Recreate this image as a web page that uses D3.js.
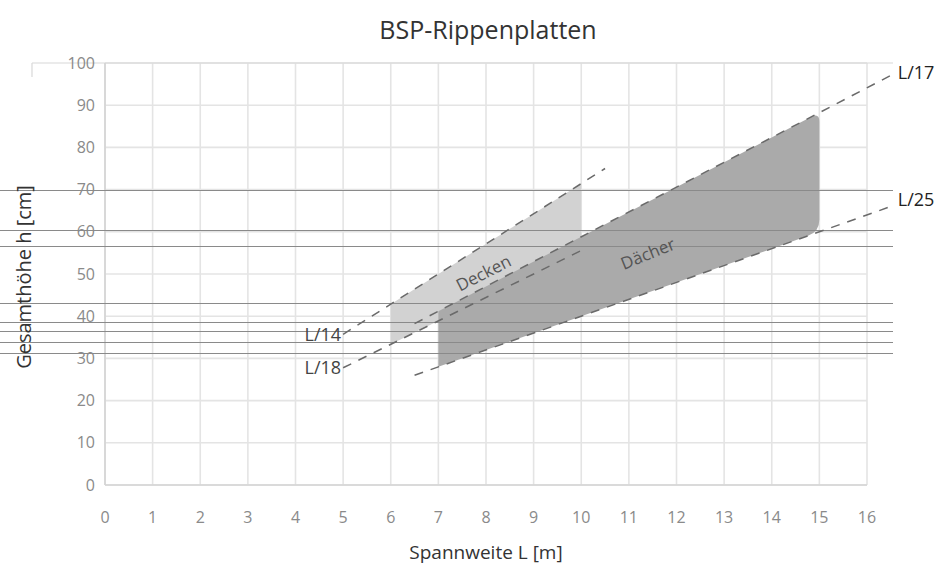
<!DOCTYPE html>
<html>
<head>
<meta charset="utf-8">
<script src="https://cdn.jsdelivr.net/npm/d3@7"></script>
<style>
  html, body { margin: 0; padding: 0; background: #fff; }
  svg { display: block; font-family: "Open Sans", "Noto Sans", sans-serif; }
</style>
</head>
<body>
<svg id="chart" width="948" height="568"></svg>
<script>
// Span (m) and total height (cm) axes
const xTicks = [0, 1, 2, 3, 4, 5, 6, 7, 8, 9, 10, 11, 12, 13, 14, 15, 16];
const yTicks = [0, 10, 20, 30, 40, 50, 60, 70, 80, 90, 100];

// Slenderness guide lines h = L / n
const guideNames = ["L/14", "L/18", "L/17", "L/25"];
const guideRatios = [14, 18, 17, 25];
const guideFrom = [5, 5, 6.5, 6.5];
const guideTo = [10.5, 10, 16.5, 16.5];

// Application ranges: between two ratios over a span interval
const bandNames = ["Decken", "Dächer"];
const bandUpper = [14, 17];
const bandLower = [18, 25];
const bandFrom = [6, 7];
const bandTo = [10, 15];
const bandLabelL = [7.95, 11.4];
const bandLabelH = [50.2, 54.8];

// Thin reference rules across the chart (cm)
const ruleValues = [70, 60.4, 56.6, 43.1, 38.6, 36.4, 34.0, 31.3];

const svg = d3.select("#chart");
const x = d3.scaleLinear().domain([0, 16]).range([105, 867]);
const y = d3.scaleLinear().domain([0, 100]).range([485, 63]);
const h = (L, n) => L * 100 / n;

// Grid
const grid = svg.append("g");
grid.selectAll("line.v").data(xTicks).join("line")
  .attr("x1", d => x(d)).attr("x2", d => x(d))
  .attr("y1", y(0)).attr("y2", y(100))
  .attr("stroke", "#e4e4e4").attr("stroke-width", 1.6);
grid.selectAll("line.h").data(yTicks).join("line")
  .attr("x1", x(0)).attr("x2", x(16))
  .attr("y1", d => y(d)).attr("y2", d => y(d))
  .attr("stroke", "#e4e4e4").attr("stroke-width", 1.6);
// top rule runs a little wider
grid.append("line").attr("x1", 32).attr("x2", 893).attr("y1", y(100)).attr("y2", y(100))
  .attr("stroke", "#d8d8d8").attr("stroke-width", 1.2);
grid.append("line").attr("x1", 32).attr("x2", 32).attr("y1", y(100)).attr("y2", y(100) + 14)
  .attr("stroke", "#d8d8d8").attr("stroke-width", 1.2);
// axis frame lines
grid.append("line").attr("x1", x(0)).attr("x2", x(0)).attr("y1", y(0)).attr("y2", y(100))
  .attr("stroke", "#d4d4d4").attr("stroke-width", 1.6);
grid.append("line").attr("x1", x(0)).attr("x2", x(16)).attr("y1", y(0)).attr("y2", y(0))
  .attr("stroke", "#d4d4d4").attr("stroke-width", 1.6);

// Bands
function bandPath(i) {
  const A = [x(bandFrom[i]), y(h(bandFrom[i], bandLower[i]))];
  const B = [x(bandFrom[i]), y(h(bandFrom[i], bandUpper[i]))];
  const C = [x(bandTo[i]), y(h(bandTo[i], bandUpper[i]))];
  const D = [x(bandTo[i]), y(h(bandTo[i], bandLower[i]))];
  if (i === 0) {
    return `M${A}L${B}L${C}L${D}Z`;
  }
  const toward = (P, Q, r) => {
    const dx = Q[0] - P[0], dy = Q[1] - P[1], len = Math.hypot(dx, dy);
    return [P[0] + dx / len * r, P[1] + dy / len * r];
  };
  const r1 = 9, r2 = 12;
  const c1 = toward(C, B, r1), c2 = toward(C, D, r1);
  const d1 = toward(D, C, r2), d2 = toward(D, A, r2);
  return `M${A}L${B}L${c1}Q${C} ${c2}L${d1}Q${D} ${d2}Z`;
}
const bandFill = ["#d2d2d2", "#aaaaaa"];
svg.append("g").selectAll("path").data(bandNames).join("path")
  .attr("d", (d, i) => bandPath(i))
  .attr("fill", (d, i) => bandFill[i]);

// Reference rules
svg.append("g").selectAll("line").data(ruleValues).join("line")
  .attr("x1", 0).attr("x2", 893)
  .attr("y1", d => Math.round(y(d)) + 0.5).attr("y2", d => Math.round(y(d)) + 0.5)
  .attr("stroke", "#8a8a8a").attr("stroke-width", 1);

// Guide lines
svg.append("g").selectAll("line").data(guideNames).join("line")
  .attr("x1", (d, i) => x(guideFrom[i]))
  .attr("y1", (d, i) => y(h(guideFrom[i], guideRatios[i])))
  .attr("x2", (d, i) => x(guideTo[i]))
  .attr("y2", (d, i) => y(h(guideTo[i], guideRatios[i])))
  .attr("stroke", "#6a6a6a").attr("stroke-width", 1.5)
  .attr("stroke-dasharray", "9,8");

// Guide labels: left-hand ones end before the line, right-hand ones follow it
const guideLabel = svg.append("g").attr("font-size", 18).attr("fill", "#2a2a2a");
const rightShift = [0, 0, -3, -7];
guideNames.forEach((name, i) => {
  const left = guideFrom[i] <= 5;
  const L = left ? guideFrom[i] : guideTo[i];
  guideLabel.append("text")
    .attr("x", left ? x(L) - 2 : x(L) + 7)
    .attr("y", y(h(L, guideRatios[i])) + rightShift[i])
    .attr("dy", "0.35em")
    .attr("text-anchor", left ? "end" : "start")
    .attr("fill", left ? "#444" : "#222")
    .text(name);
});

// Band labels
svg.append("g").selectAll("text").data(bandNames).join("text")
  .attr("transform", (d, i) => `translate(${x(bandLabelL[i])},${y(bandLabelH[i])}) rotate(${i === 0 ? -27 : -22})`)
  .attr("text-anchor", "middle").attr("dy", "0.35em")
  .attr("font-size", 17).attr("fill", "#555")
  .text(d => d);

// Tick labels
svg.append("g").selectAll("text").data(xTicks).join("text")
  .attr("x", d => x(d)).attr("y", 523)
  .attr("text-anchor", "middle").attr("font-size", 16).attr("fill", "#8a8a8a")
  .text(d => d);
svg.append("g").selectAll("text").data(yTicks).join("text")
  .attr("x", 95).attr("y", d => y(d)).attr("dy", "0.35em")
  .attr("text-anchor", "end").attr("font-size", 16).attr("fill", "#8a8a8a")
  .text(d => d);

// Titles
svg.append("text").attr("x", 488).attr("y", 39).attr("text-anchor", "middle")
  .attr("font-size", 25).attr("fill", "#333").text("BSP-Rippenplatten");
svg.append("text").attr("x", 486).attr("y", 559).attr("text-anchor", "middle")
  .attr("font-size", 19).attr("fill", "#333").text("Spannweite L [m]");
svg.append("text").attr("transform", "translate(31,277) rotate(-90)")
  .attr("text-anchor", "middle").attr("font-size", 20).attr("fill", "#333")
  .text("Gesamthöhe h [cm]");
</script>
</body>
</html>
